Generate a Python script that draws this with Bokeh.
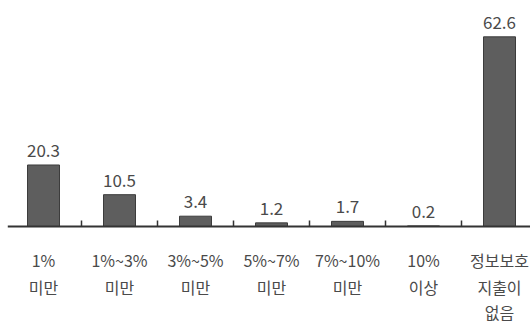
from bokeh.plotting import figure
from bokeh.models import ColumnDataSource, Range1d
from bokeh.core.properties import value
from bokeh.embed import file_html
from bokeh.resources import INLINE

categories = ["1%\n미만", "1%~3%\n미만", "3%~5%\n미만", "5%~7%\n미만", "7%~10%\n미만", "10%\n이상", "정보보호\n지출이\n없음"]
values = [20.3, 10.5, 3.4, 1.2, 1.7, 0.2, 62.6]

W, H = 530, 323
axis_px = 226
scale = 3.03          # px per unit
step = 76.0           # px per category
first_px = 43.0

xs = list(range(len(categories)))
p = figure(width=W, height=H, output_backend="svg", toolbar_location=None,
           min_border=0, min_border_left=0, min_border_right=0, min_border_top=0, min_border_bottom=0)
p.x_range = Range1d(-first_px / step, (W - first_px) / step)
p.y_range = Range1d(-(H - axis_px) / scale, axis_px / scale)
p.axis.visible = False
p.grid.visible = False
p.outline_line_color = None
p.background_fill_color = "white"
p.border_fill_color = "white"

src = ColumnDataSource(dict(x=xs, top=values, lab=[f"{v:.1f}" for v in values]))
p.vbar(x="x", top="top", bottom=0, width=32 / step, source=src,
       fill_color="#5e5e5e", line_color="#3c3c3c", line_width=1)

# baseline and ticks
p.segment(x0=[-0.47], y0=[0], x1=[(W - first_px) / step], y1=[0], line_color="#333333", line_width=2)
tx = [i + 0.5 for i in xs[:-1]]
p.segment(x0=tx, y0=[0] * len(tx), x1=tx, y1=[6 / scale] * len(tx), line_color="#333333", line_width=1.5)

# value labels
p.text(x="x", y="top", text="lab", source=src, text_align="center", text_baseline="bottom",
       y_offset=-8, text_font=value("Noto Sans CJK KR"), text_font_size="17px", text_color="#4a4a4a")

# category labels, line by line
offsets = [33, 60, 85]
for li in range(3):
    lx, lt = [], []
    for i, c in enumerate(categories):
        parts = c.split("\n")
        if li < len(parts):
            lx.append(i)
            lt.append(parts[li])
    p.text(x=lx, y=[0] * len(lx), text=lt, text_align="center", text_baseline="middle",
           y_offset=offsets[li], text_font=value("Noto Sans CJK KR"), text_font_size="16px",
           text_color="#4a4a4a")

open("out.html", "w").write(file_html(p, INLINE))
